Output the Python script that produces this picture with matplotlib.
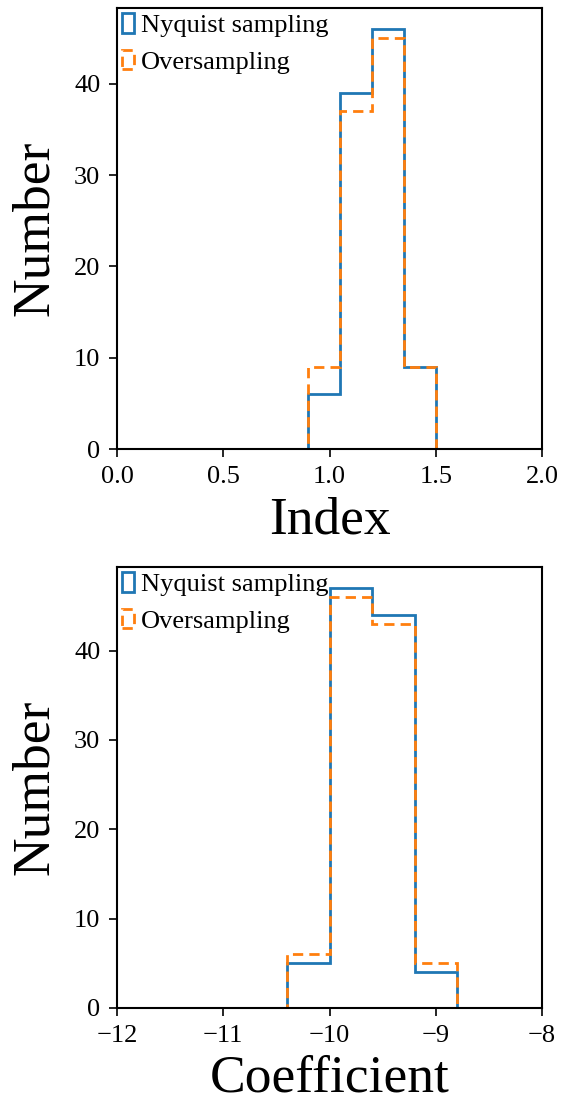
import numpy as np
import matplotlib
matplotlib.use("Agg")
import matplotlib.pyplot as plt

plt.rcParams['font.family'] = ['Liberation Serif', 'DejaVu Serif']
plt.rcParams['mathtext.fontset'] = 'stix'

# histogram bins and counts
index_edges = np.linspace(0.0, 1.5, 11)
index_nyquist = [0, 0, 0, 0, 0, 0, 6, 39, 46, 9]
index_over = [0, 0, 0, 0, 0, 0, 9, 37, 45, 9]

coef_edges = np.linspace(-12.0, -8.0, 11)
coef_nyquist = [0, 0, 0, 0, 5, 47, 44, 4, 0, 0]
coef_over = [0, 0, 0, 0, 6, 46, 43, 5, 0, 0]

labels = ["Nyquist sampling", "Oversampling"]

fig = plt.figure(figsize=(5.61, 11.04), dpi=100)
W, H = 561, 1104
ax1 = fig.add_axes([117 / W, (H - 449) / H, 425 / W, 441 / H])
ax2 = fig.add_axes([117 / W, (H - 1008) / H, 425 / W, 441 / H])


def panel(ax, edges, n1, n2, xlim, xticks, xlabel):
    ax.hist(edges[:-1], bins=edges, weights=n1, histtype='step',
            color='#1f77b4', lw=2.0, label=labels[0])
    ax.hist(edges[:-1], bins=edges, weights=n2, histtype='step',
            color='#ff7f0e', lw=2.0, ls=(0, (3.7, 2.2)), label=labels[1])
    ax.set_xlim(*xlim)
    ax.set_xticks(xticks)
    ax.set_yticks([0, 10, 20, 30, 40])
    ax.tick_params(labelsize=19, length=6, width=1.2, direction='out', pad=6)
    for s in ax.spines.values():
        s.set_linewidth(1.5)
    ax.set_xlabel(xlabel, fontsize=38.5, labelpad=6)
    ax.set_ylabel("Number", fontsize=38.5, labelpad=11)
    ax.legend(loc='upper left', frameon=False, fontsize=19, handlelength=0.45,
              handleheight=0.75, handletextpad=0.25, borderaxespad=0.12,
              borderpad=0.08, labelspacing=0.48)


panel(ax1, index_edges, index_nyquist, index_over, (0, 2),
      [0.0, 0.5, 1.0, 1.5, 2.0], "Index")
ax1.set_xticklabels(["0.0", "0.5", "1.0", "1.5", "2.0"])
panel(ax2, coef_edges, coef_nyquist, coef_over, (-12, -8),
      [-12, -11, -10, -9, -8], "Coefficient")

fig.savefig("out.png", dpi=100)
